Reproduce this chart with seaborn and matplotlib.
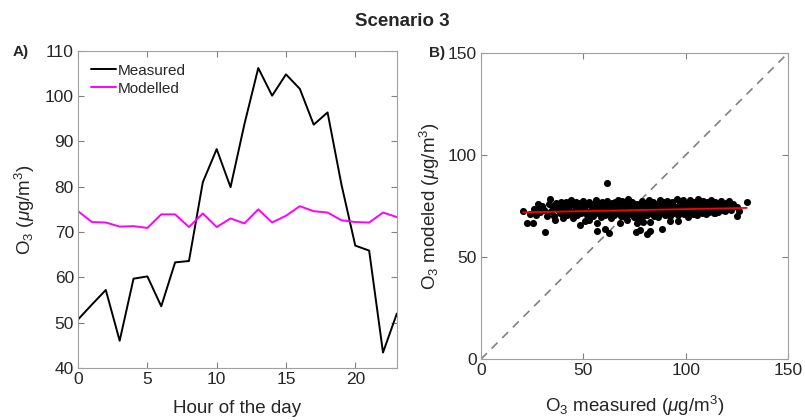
import numpy as np
import pandas as pd
import seaborn as sns
import matplotlib.pyplot as plt

hours = list(range(24))
measured = [50.7, 54.0, 57.2, 46.0, 59.7, 60.2, 53.6, 63.3, 63.6, 81.0, 88.3, 79.9,
            93.8, 106.2, 100.1, 104.8, 101.6, 93.7, 96.4, 80.5, 67.0, 65.9, 43.4, 52.0]
modelled = [74.6, 72.2, 72.1, 71.2, 71.3, 70.9, 73.9, 73.9, 71.1, 74.1, 71.1, 73.0,
            71.9, 75.0, 72.1, 73.6, 75.7, 74.6, 74.3, 72.6, 72.2, 72.1, 74.3, 73.3]

# scatter of hourly pairs
obs_x = [20.7, 22.6, 25.5, 24, 26, 27, 28, 28.5, 29, 31.3,
         30, 31, 32, 33.7, 33, 34, 35, 35.5, 36, 36.5, 37, 38, 38.5, 39, 39.5, 40,
         40.5, 41, 41.5, 42, 42.5, 43, 43.5, 44, 44.5, 45, 45.5, 46, 46.5, 47, 47.5, 48, 48.4, 48.5, 49, 49.5, 50, 50.8,
         51, 51.5, 52, 52.8, 53, 53.5, 54, 54.5, 55, 55.5, 56, 56.5, 56.5, 57, 57.5, 58, 58.5, 59, 59.5, 60, 60.6,
         60.5, 61, 61.4, 61.5, 62, 62.5, 62.5, 63, 63.5, 64, 64.5, 65, 65.5, 66, 66.5, 67, 67.5, 67.9, 68, 68.5, 69, 69.5, 70,
         70.5, 71, 71.2, 71.5, 72, 72.5, 73, 73.5, 74, 74.5, 75, 75.6, 75.5, 76, 76, 76.5, 77, 77.5, 77.5, 78, 78.5, 79, 79.3, 79.5, 80,
         80.5, 80.9, 81, 81.5, 82, 82.5, 82.5, 82.5, 83, 83.5, 84, 84.5, 85, 85.5, 86, 86.5, 87, 87.5, 88, 88.3, 88.5, 89, 89.5, 90,
         90.5, 91, 91.5, 92, 92.3, 92.5, 93, 93.5, 94, 94.5, 95, 95.5, 96, 96.4, 96.5, 97, 97.5, 98, 98.5, 99, 99.5, 100,
         100.5, 101, 101.3, 101.5, 102, 102.5, 103, 103.5, 104, 104.5, 105, 105.5, 106, 106.5, 107, 107.5, 108, 108.5, 109, 109.5, 110,
         110.5, 111, 111.5, 112, 112.5, 113, 113.5, 114, 114.3, 114.5, 115, 115.5, 116, 116.5, 117, 117.5, 118, 119, 119.5, 120,
         121, 121.5, 122, 123, 124.9, 125, 126, 129.8]
mod_y = [72.5, 66.8, 66.8, 71, 73.5, 70.5, 76, 74.5, 72, 62.3,
         75, 73, 70.2, 78.4, 76, 72.5, 74.8, 70, 68.1, 76.5, 73.5, 75.5, 71.5, 77, 73, 69,
         75, 72, 77.2, 70.5, 74, 76, 72.8, 78, 71, 69, 75.5, 73, 77, 70.5, 74.5, 72, 65.7, 76.5, 71.5, 74, 77.5, 67.7,
         73, 75.5, 70.5, 68.1, 77, 72.5, 74.5, 70, 76, 73, 78, 62.9, 66.8, 71.5, 75, 73.5, 69.5, 77, 72, 75.5, 63.9,
         70.5, 73.5, 86.3, 77.5, 71.5, 61.9, 75, 72.8, 69, 76.5, 73.5, 70.5, 77, 74, 71.5, 78, 73, 66.8, 75.5, 70, 77.5, 72.5, 74.5,
         69.5, 76.5, 68.1, 73, 78.5, 71, 75, 72.5, 77, 69.5, 74, 62.4, 71.5, 66.5, 76, 73, 69, 63.2, 75.5, 72, 77.5, 70, 67, 74.5, 72.5,
         76.5, 61.1, 70.5, 73.5, 78, 63, 67, 71.5, 75, 73, 77, 70, 74.5, 72, 76, 69.5, 73.5, 78, 71.5, 63.5, 75, 72.5, 76.8, 70.5,
         74, 77.5, 72, 75.5, 67.6, 70, 73.5, 77, 71.5, 75, 72.8, 78.2, 70.5, 67.6, 74.5, 76.5, 72, 73.5, 77.8, 71, 75, 73,
         76.5, 70.5, 69.4, 74, 78, 72, 75.5, 71, 77, 73.5, 75, 70.5, 78.5, 72.5, 76, 74, 71.5, 77.5, 73, 75.5, 71,
         77, 74, 72, 76, 78, 73, 75, 71.5, 71.7, 77, 73.5, 76, 72, 74.5, 77.5, 73, 75.5, 72.5, 76.5, 74,
         77.5, 75, 73, 76, 70, 74.5, 72.5, 76.8]

sns.set_style("ticks")
plt.rcParams['font.family'] = ['Liberation Sans', 'DejaVu Sans']
plt.rcParams['mathtext.fontset'] = 'custom'
plt.rcParams['mathtext.rm'] = 'Liberation Sans'
plt.rcParams['mathtext.it'] = 'Liberation Sans:italic'
plt.rcParams['text.color'] = '#262626'
plt.rcParams['axes.labelcolor'] = '#262626'

fig = plt.figure(figsize=(8.05, 4.2), dpi=100)
ax1 = fig.add_axes([0.097, 0.124, 0.396, 0.755])
ax2 = fig.add_axes([0.5975, 0.145, 0.3815, 0.729])

df = pd.DataFrame({'hour': hours, 'Measured': measured, 'Modelled': modelled})
long = df.melt(id_vars='hour', var_name='kind', value_name='o3')
sns.lineplot(data=long, x='hour', y='o3', hue='kind', palette={'Measured': 'black', 'Modelled': '#ff00ff'},
             linewidth=1.4, ax=ax1)
ax1.set_xlim(0, 23)
ax1.set_ylim(40, 110)
ax1.set_xticks([0, 5, 10, 15, 20])
ax1.set_yticks(range(40, 111, 10))
ax1.set_xlabel("Hour of the day", fontsize=13.5, labelpad=9)
ax1.set_ylabel(r"O$_3$ ($\mu$g/m$^3$)", fontsize=13.5, labelpad=6)
ax1.legend(loc='upper left', frameon=False, fontsize=11, handlelength=1.6, handletextpad=0.15,
           borderaxespad=0.45, labelspacing=0.25)

sc = pd.DataFrame({'obs': obs_x, 'mod': mod_y})
sns.scatterplot(data=sc, x='obs', y='mod', color='black', s=26, edgecolor='black', linewidth=0, ax=ax2, zorder=3)
ax2.plot([0, 150], [0, 150], linestyle=(0, (5, 4)), color='#808080', linewidth=1.2, zorder=2)
sns.regplot(data=sc, x='obs', y='mod', scatter=False, ci=None, truncate=True,
            line_kws={'color': '#ff0000', 'linewidth': 1.3, 'zorder': 4}, ax=ax2)
ax2.set_xlim(0, 150)
ax2.set_ylim(0, 150)
ax2.set_xticks([0, 50, 100, 150])
ax2.set_yticks([0, 50, 100, 150])
ax2.set_xlabel(r"O$_3$ measured ($\mu$g/m$^3$)", fontsize=13.5, labelpad=11)
ax2.set_ylabel(r"O$_3$ modeled ($\mu$g/m$^3$)", fontsize=13.5, labelpad=4)

for ax in (ax1, ax2):
    for s in ax.spines.values():
        s.set_visible(True)
        s.set_color('#a0a0a0')
        s.set_linewidth(0.8)
    ax.tick_params(which='major', direction='in', top=True, right=True, bottom=True, left=True,
                   length=4.5, width=0.8, color='#808080', labelsize=12.5, labelcolor='#262626', pad=3)

fig.text(0.016, 0.876, "A)", fontsize=11, fontweight='bold', va='center')
fig.text(0.533, 0.874, "B)", fontsize=11, fontweight='bold', va='center')
fig.suptitle("Scenario 3", x=0.5, y=0.968, fontsize=13.5, fontweight='bold')

fig.savefig("out.png", dpi=100)
